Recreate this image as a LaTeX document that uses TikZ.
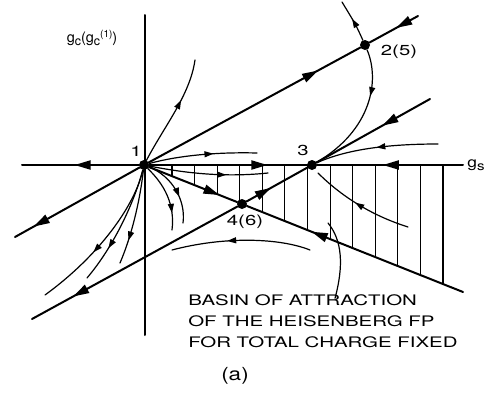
\documentclass[tikz,border=0pt]{standalone}
\usepackage{fontspec}
\setmainfont{TeX Gyre Heros}
\usetikzlibrary{arrows.meta,calc,decorations.markings}
\newcommand{\lowc}[1]{\raisebox{-3pt}{\fontsize{12.5}{12.5}\selectfont #1}}
\tikzset{
  fp/.style={circle,fill,inner sep=0pt,minimum size=10pt},
  sepx/.style={line width=2pt},
  flow/.style={line width=1.2pt},
  hatch/.style={line width=1.1pt},
  lbl/.style={font=\fontsize{14.5}{21}\selectfont},
  widelbl/.style={lbl,xscale=1.4},
  bigtip/.style={postaction={decorate,decoration={markings,mark=at position #1 with {\arrow{Triangle[length=16pt,width=9pt]}}}}},
  tip/.style={postaction={decorate,decoration={markings,mark=at position #1 with {\arrow{Triangle[length=9pt,width=6pt]}}}}},
}

\begin{document}
\begin{tikzpicture}[line cap=round, line join=round, x=1pt, y=-1pt]
  \useasboundingbox (0,0) rectangle (493,394);
  % fixed points
  \node[fp] (fp1) at (144,165) {};
  \node[fp] (fp2) at (365,45) {};
  \node[fp] (fp3) at (312,165) {};
  \node[fp] (fp4) at (242,204) {};
  % free ends
  \coordinate (v1) at (145,15);
  \coordinate (v2) at (145,335);
  \coordinate (h1) at (22,165);
  \coordinate (h2) at (463,165);
  \coordinate (a1) at (15,237);
  \coordinate (a2) at (418,16);
  \coordinate (b1) at (32,319);
  \coordinate (b2) at (430,99);
  \coordinate (c2) at (463,292);

  % hatched basin
  \foreach \i [evaluate=\i as \x using 172+22.58*\i] in {0,...,12}
    \draw[hatch] (\x,165) -- (\x,{165+0.398*(\x-144)});

  % axes
  \draw[sepx] (v1) -- (v2);
  \draw[sepx,bigtip=0.55] (fp1) -- (h1);
  \draw[sepx,bigtip=0.75] (fp1) -- (fp3);
  \draw[sepx,bigtip=0.55] (h2) -- (fp3);

  % separatrices
  \draw[sepx,bigtip=0.85] (fp1) -- (a1);
  \draw[sepx,bigtip=0.8] (fp1) -- (fp2);
  \draw[sepx,bigtip=0.45] (a2) -- (fp2);
  \draw[sepx,bigtip=0.8] (fp4) -- (b1);
  \draw[sepx,bigtip=0.4] (fp4) -- (fp3);
  \draw[sepx,bigtip=0.42] (b2) -- (fp3);
  \draw[sepx,bigtip=0.8] (fp1) -- (fp4);
  \draw[sepx,bigtip=0.7] (c2) -- (fp4);

  % flow lines out of 1
  \draw[flow,tip=0.62] (fp1) .. controls (165,125) and (190,95) .. (195,60);
  \draw[flow,tip=0.6] (fp1) .. controls (180,155) and (220,152) .. (257,153);
  \draw[flow,tip=0.65] (fp1) .. controls (180,172) and (220,178) .. (268,173);
  \draw[flow,tip=0.75] (fp1) .. controls (165,185) and (175,205) .. (172,230);
  \draw[flow,tip=0.62] (fp1) .. controls (172,176) and (186,200) .. (183,223);
  \draw[flow,tip=0.6] (fp1) .. controls (135,205) and (100,255) .. (45,295);
  \draw[flow,tip=0.7] (fp1) .. controls (135,200) and (115,245) .. (87,278);
  \draw[flow,tip=0.75] (fp1) .. controls (140,200) and (132,235) .. (120,263);

  % flow lines near 2 and 3
  \coordinate (t2) at (342,2);
  \draw[flow,tip=0.55] (fp2) .. controls (356,25) .. (t2);
  \draw[flow,tip=0.35] (fp2) .. controls (380,80) and (372,130) .. (fp3);
  \coordinate (r3) at (438,144);
  \draw[flow,tip=0.5] (r3) .. controls (385,144) and (345,150) .. (fp3);
  \coordinate (d3a) at (408,227);
  \coordinate (d3b) at (318,173);
  \draw[flow,tip=0.55] (d3a) .. controls (370,215) and (340,195) .. (d3b);
  \coordinate (l1) at (310,250);
  \coordinate (l2) at (172,250);
  \draw[flow,tip=0.6] (l1) .. controls (280,238) and (225,236) .. (l2);

  % labels
  \node[lbl] (gc) at (92,38) {g\lowc{c}(g\lowc{c\raisebox{8pt}{\fontsize{10}{10}\selectfont(1)}})};
  \node[lbl,xscale=1.2] (gs) at (476,165) {g\lowc{s}};
  \node[widelbl] (n1) at (136,151) {1};
  \node[widelbl] (n2) at (399,52) {2(5)};
  \node[widelbl] (n3) at (303,150) {3};
  \node[widelbl] (n4) at (245,222) {4(6)};
  \node[lbl,anchor=west,align=left,inner sep=0pt,xscale=1.41] (basin) at (188,321)
    {BASIN OF ATTRACTION\\OF THE HEISENBERG FP\\FOR TOTAL CHARGE FIXED};
  \node[lbl,font=\fontsize{18}{20}\selectfont,xscale=1.25] (cap) at (235,376) {(a)};
  \coordinate (ptr) at (328,223);
  \draw[flow] (ptr) .. controls (342,240) and (344,265) .. ($(basin.north west)+(147,4)$);
\end{tikzpicture}
\end{document}
